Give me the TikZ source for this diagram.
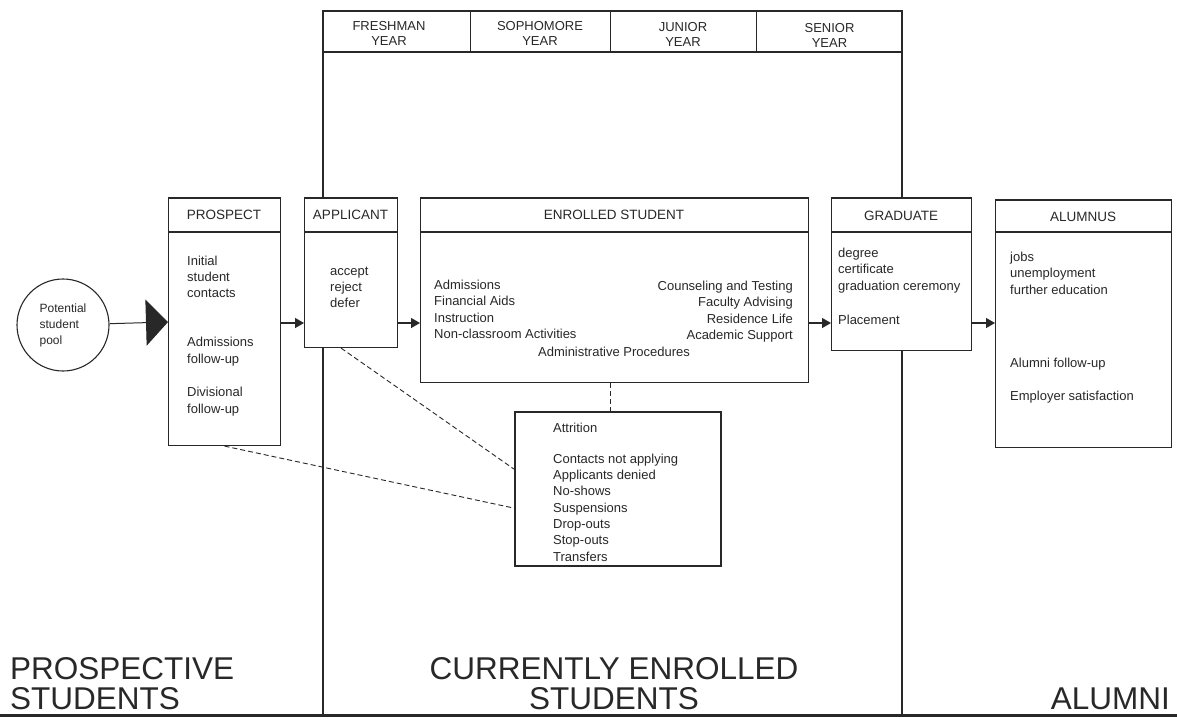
\documentclass[tikz,border=0pt]{standalone}
\usepackage{fontspec}
\setmainfont{Liberation Sans}
\usetikzlibrary{arrows.meta,calc}
\definecolor{ink}{RGB}{40,40,40}
\newcommand\myBody{\fontsize{13}{16.3}\selectfont}
\newcommand\myHead{\fontsize{13.5}{15}\selectfont}
\newcommand\myYear{\fontsize{13}{15.5}\selectfont}
\newcommand\myBig{\fontsize{31.5}{32}\selectfont}
\begin{document}
\begin{tikzpicture}[x=1pt,y=-1pt,
  box/.style={draw=ink, line width=1.1pt, fill=white, rectangle, inner sep=0pt, anchor=north west},
  topline/.style={draw=ink, line width=2.6pt},
  hline/.style={draw=ink, line width=1.1pt},
  title/.style={font=\myHead, text=ink, inner sep=0pt, anchor=center},
  txt/.style={font=\myBody, text=ink, inner sep=0pt, align=left, anchor=base west},
  rtxt/.style={font=\myBody, text=ink, inner sep=0pt, align=right, anchor=base east},
  year/.style={font=\myYear, text=ink, inner sep=0pt, align=center, anchor=base},
  big/.style={font=\myBig, text=ink, inner sep=0pt, anchor=base},
  arr/.style={draw=ink, line width=1.3pt, -{Triangle[length=9pt,width=10pt]}},
  dashline/.style={draw=ink, line width=0.9pt, dash pattern=on 5pt off 3pt},
  framel/.style={draw=ink, line width=1.8pt}
]
\fill[white] (0,0) rectangle (1177,724);
\useasboundingbox (0,0) rectangle (1177,724);

% big frame for currently enrolled students
\draw[framel] (323,715) -- (323,11) -- (902,11) -- (902,715);
\draw[draw=ink, line width=2.8pt] (323,11) -- (902,11);
\draw[framel, line width=1.3pt] (323,52) -- (902,52);
\draw[framel, line width=1pt] (470,11) -- (470,52);
\draw[framel, line width=1pt] (610,11) -- (610,52);
\draw[framel, line width=1pt] (756,11) -- (756,52);
\draw[draw=ink, line width=3pt] (0,715) -- (1177,715);

% (multi-line nodes: the base anchor is the baseline of the last line)
\node[year] (y1) at (389,45.5) {FRESHMAN\\YEAR};
\node[year] (y2) at (540,45.5) {SOPHOMORE\\YEAR};
\node[year] (y3) at (683,46.5) {JUNIOR\\YEAR};
\node[year] (y4) at (829.5,47.5) {SENIOR\\YEAR};

\coordinate (hy) at (0,232);
\coordinate (ay) at (0,323);

% boxes
\node[box, minimum width=112pt, minimum height=247pt] (prospect) at (168,198) {};
\node[box, minimum width=93pt, minimum height=149pt] (applicant) at (304,198) {};
\node[box, minimum width=388pt, minimum height=184pt] (enrolled) at (420,198) {};
\node[box, minimum width=140pt, minimum height=152pt] (graduate) at (831,198) {};
\node[box, minimum width=176pt, minimum height=247pt] (alumnus) at (995,200) {};
\node[box, line width=2.2pt, minimum width=206pt, minimum height=154pt] (attr) at (514,411) {};

\foreach \b in {prospect,applicant,enrolled,graduate,alumnus}{
  \draw[topline] (\b.north west) -- (\b.north east);
  \draw[hline] (\b.north west |- hy) -- (\b.north east |- hy);
}

\node[title] (prospect-t) at (224,215) {PROSPECT};
\node[title] (applicant-t) at (350.5,215) {APPLICANT};
\node[title] (enrolled-t) at (614,215) {ENROLLED STUDENT};
\node[title] (graduate-t) at (901,216) {GRADUATE};
\node[title] (alumnus-t) at (1083,217) {ALUMNUS};

% pool
\node[circle, draw=ink, line width=1.1pt, minimum size=92pt, inner sep=0pt, align=left,
      font=\fontsize{12}{16}\selectfont, text=ink] (pool) at (63,325) {Potential\\student\\pool};

% texts
\node[txt] (pr1) at (187,297.6) {Initial\\student\\contacts};
\node[txt] (pr2) at (187,363) {Admissions\\follow-up};
\node[txt] (pr3) at (187,413) {Divisional\\follow-up};
\node[txt] (ap1) at (330,307.6) {accept\\reject\\defer};
\node[txt] (en1) at (434,338.5) {Admissions\\Financial Aids\\Instruction\\Non-classroom Activities};
\node[rtxt] (en2) at (793,339.5) {Counseling and Testing\\Faculty Advising\\Residence Life\\Academic Support};
\node[txt, anchor=base] (en3) at (614,356) {Administrative Procedures};
\node[txt, font=\fontsize{13}{16.8}\selectfont] (gr1) at (838,290.6) {degree\\certificate\\graduation ceremony};
\node[txt] (gr2) at (838,324) {Placement};
\node[txt] (al1) at (1010,294) {jobs\\unemployment\\further education};
\node[txt] (al2) at (1010,367) {Alumni follow-up};
\node[txt] (al3) at (1010,400) {Employer satisfaction};
\node[txt] (at1) at (553,432) {Attrition};
\node[txt] (at2) at (553,561) {Contacts not applying\\Applicants denied\\No-shows\\Suspensions\\Drop-outs\\Stop-outs\\Transfers};

% connectors
\draw[draw=ink, line width=1pt, -{Triangle[length=22pt,width=46pt]}] (pool) -- (prospect.west |- 0,322);
\draw[arr] (prospect.east |- ay) -- (applicant.west |- ay);
\draw[arr] (applicant.east |- ay) -- (enrolled.west |- ay);
\draw[arr] (enrolled.east |- ay) -- (graduate.west |- ay);
\draw[arr] (graduate.east |- ay) -- (alumnus.west |- ay);

\coordinate (attrtop) at ($(attr.north)+(-8,0)$);
\draw[dashline] (enrolled.south -| attrtop) -- (attrtop);
\draw[dashline] ($(applicant.south)+(-10,0)$) -- ($(attr.west)+(0,-20)$);
\draw[dashline] (prospect.south) -- ($(attr.west)+(0,19)$);

% bottom labels
\node[big, anchor=base west] (l1) at (10,679) {PROSPECTIVE};
\node[big, anchor=base west] (l2) at (10,709) {STUDENTS};
\node[big] (l3) at (614,679) {CURRENTLY ENROLLED};
\node[big] (l4) at (614,709) {STUDENTS};
\node[big, anchor=base east] (l5) at (1170,709) {ALUMNI};
\end{tikzpicture}
\end{document}
